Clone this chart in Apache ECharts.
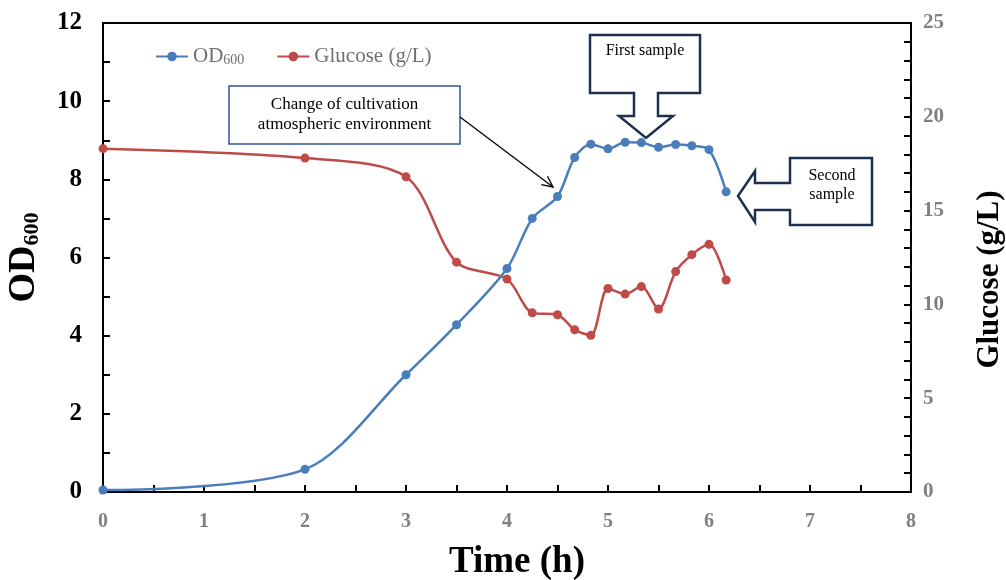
<!DOCTYPE html>
<html>
<head>
<meta charset="utf-8">
<script src="https://cdn.jsdelivr.net/npm/echarts@6/dist/echarts.min.js"></script>
<style>
  html, body { margin: 0; padding: 0; background: #fff; }
  #chart { width: 1006px; height: 580px; }
</style>
</head>
<body>
<div id="chart"></div>
<script>
// sampling times (h)
const times = [0, 2, 3, 3.5, 4, 4.25, 4.5, 4.67, 4.83, 5, 5.17, 5.33, 5.5, 5.67, 5.83, 6, 6.17]
// OD600 readings
const od600 = [0.05, 0.58, 3.0, 4.28, 5.72, 7.0, 7.56, 8.56, 8.9, 8.78, 8.95, 8.94, 8.82, 8.89, 8.86, 8.76, 7.68]
// residual glucose (g/L)
const glucose = [18.3, 17.8, 16.8, 12.25, 11.35, 9.55, 9.45, 8.65, 8.35, 10.85, 10.55, 10.95, 9.75, 11.75, 12.65, 13.2, 11.3]

const FONT = '"Liberation Serif", "Times New Roman", serif'
const BLUE = '#4a7ebb'
const RED = '#be4b48'
const NAVY = '#1f2f4f'

const odData = times.map((t, i) => [t, od600[i]])
const gluData = times.map((t, i) => [t, glucose[i]])

// arrow for the "change of cultivation" note
const arrowFrom = [460, 117]
const arrowTo = [553, 187]
function arrowHead(from, to, len, ang) {
  const a = Math.atan2(to[1] - from[1], to[0] - from[0])
  return [
    [to[0] - len * Math.cos(a - ang), to[1] - len * Math.sin(a - ang)],
    to,
    [to[0] - len * Math.cos(a + ang), to[1] - len * Math.sin(a + ang)],
  ]
}

const chart = echarts.init(document.getElementById('chart'))

const option = {
  backgroundColor: '#fff',
  animation: false,
  grid: {
    left: 103, right: 95, top: 23, bottom: 88,
    outerBoundsMode: 'none', containLabel: false,
    show: true, borderColor: '#000', borderWidth: 2, backgroundColor: 'transparent',
  },
  legend: {
    left: 150, top: 41,
    itemWidth: 32, itemHeight: 12, itemGap: 32,
    textStyle: {
      fontFamily: FONT, fontSize: 21, color: '#707070',
      rich: {
        a: { fontFamily: FONT, fontSize: 21, color: '#707070' },
        b: { fontFamily: FONT, fontSize: 14, color: '#707070', verticalAlign: 'bottom', padding: [8, 0, 0, 0] },
      },
    },
    formatter: name => name === 'OD600' ? '{a|OD}{b|600}' : name,
    data: ['OD600', 'Glucose (g/L)'],
  },
  xAxis: {
    type: 'value', min: 0, max: 8, interval: 1,
    name: 'Time (h)', nameLocation: 'middle', nameGap: 52,
    nameTextStyle: { fontFamily: FONT, fontSize: 37, fontWeight: 'bold', color: '#000', padding: [0, 0, 0, 20] },
    axisLine: { lineStyle: { color: '#000', width: 2 } },
    axisTick: { inside: true, length: 7, lineStyle: { color: '#000', width: 2 } },
    minorTick: { show: true, splitNumber: 2, length: 7, lineStyle: { color: '#000', width: 2 } },
    axisLabel: { margin: 20, fontFamily: FONT, fontSize: 20, fontWeight: 'bold', color: '#808080' },
    splitLine: { show: false },
  },
  yAxis: [
    {
      type: 'value', min: 0, max: 12, interval: 2, position: 'left',
      name: '{a|OD}{b|600}', nameLocation: 'middle', nameGap: 60, nameRotate: 90,
      nameTextStyle: {
        rich: {
          a: { fontFamily: FONT, fontSize: 38, fontWeight: 'bold', color: '#000' },
          b: { fontFamily: FONT, fontSize: 22, fontWeight: 'bold', color: '#000', padding: [16, 0, 0, 0] },
        },
      },
      axisLine: { show: true, lineStyle: { color: '#000', width: 2 } },
      axisTick: { inside: true, length: 7, lineStyle: { color: '#000', width: 2 } },
      minorTick: { show: true, splitNumber: 2, length: 7, lineStyle: { color: '#000', width: 2 } },
      axisLabel: { margin: 21, fontFamily: FONT, fontSize: 25, fontWeight: 'bold', color: '#000' },
      splitLine: { show: false },
    },
    {
      type: 'value', min: 0, max: 25, interval: 5, position: 'right',
      name: 'Glucose (g/L)', nameLocation: 'middle', nameGap: 63, nameRotate: 90,
      nameTextStyle: { fontFamily: FONT, fontSize: 31, fontWeight: 'bold', color: '#000', padding: [0, 44, 0, 0] },
      axisLine: { show: true, lineStyle: { color: '#000', width: 2 } },
      axisTick: { inside: true, length: 7, lineStyle: { color: '#000', width: 2 } },
      minorTick: { show: true, splitNumber: 5, length: 7, lineStyle: { color: '#000', width: 2 } },
      axisLabel: { margin: 12, fontFamily: FONT, fontSize: 21, fontWeight: 'bold', color: '#808080' },
      splitLine: { show: false },
    },
  ],
  series: [
    {
      name: 'OD600', type: 'line', yAxisIndex: 0, data: odData,
      smooth: 0.3, symbol: 'circle', symbolSize: 9,
      lineStyle: { color: BLUE, width: 2.5 }, itemStyle: { color: BLUE },
      z: 3,
    },
    {
      name: 'Glucose (g/L)', type: 'line', yAxisIndex: 1, data: gluData,
      smooth: 0.3, symbol: 'circle', symbolSize: 9,
      lineStyle: { color: RED, width: 2.5 }, itemStyle: { color: RED },
      z: 2,
    },
  ],
  graphic: [
    // note box
    {
      type: 'rect', z: 10,
      shape: { x: 229, y: 86, width: 231, height: 58 },
      style: { fill: '#fff', stroke: '#2f5597', lineWidth: 1.5 },
    },
    {
      type: 'text', z: 11, x: 344.5, y: 105,
      style: { text: 'Change of cultivation', font: '17px ' + FONT, fill: '#000', align: 'center', verticalAlign: 'middle' },
    },
    {
      type: 'text', z: 11, x: 344.5, y: 125,
      style: { text: 'atmospheric environment', font: '17px ' + FONT, fill: '#000', align: 'center', verticalAlign: 'middle' },
    },
    {
      type: 'line', z: 10,
      shape: { x1: arrowFrom[0], y1: arrowFrom[1], x2: arrowTo[0], y2: arrowTo[1] },
      style: { stroke: '#000', lineWidth: 1.3 },
    },
    {
      type: 'polyline', z: 10,
      shape: { points: arrowHead(arrowFrom, arrowTo, 12, 0.45) },
      style: { stroke: '#000', lineWidth: 1.3, fill: null },
    },
    // first sample callout
    {
      type: 'polygon', z: 10,
      shape: {
        points: [[590, 35], [700, 35], [700, 93], [658, 93], [658, 116], [673, 116], [646, 138],
          [619, 116], [634, 116], [634, 93], [590, 93]],
      },
      style: { fill: '#fff', stroke: NAVY, lineWidth: 2.5 },
    },
    {
      type: 'text', z: 11, x: 645, y: 51,
      style: { text: 'First sample', font: '16px ' + FONT, fill: '#000', align: 'center', verticalAlign: 'middle' },
    },
    // second sample callout
    {
      type: 'polygon', z: 10,
      shape: {
        points: [[872, 158], [872, 225], [790, 225], [790, 210], [755, 210], [755, 222], [738, 196],
          [755, 171], [755, 183], [790, 183], [790, 158]],
      },
      style: { fill: '#fff', stroke: NAVY, lineWidth: 2.5 },
    },
    {
      type: 'text', z: 11, x: 832, y: 176,
      style: { text: 'Second', font: '16px ' + FONT, fill: '#000', align: 'center', verticalAlign: 'middle' },
    },
    {
      type: 'text', z: 11, x: 832, y: 195,
      style: { text: 'sample', font: '16px ' + FONT, fill: '#000', align: 'center', verticalAlign: 'middle' },
    },
  ],
}

chart.setOption(option)
</script>
</body>
</html>
